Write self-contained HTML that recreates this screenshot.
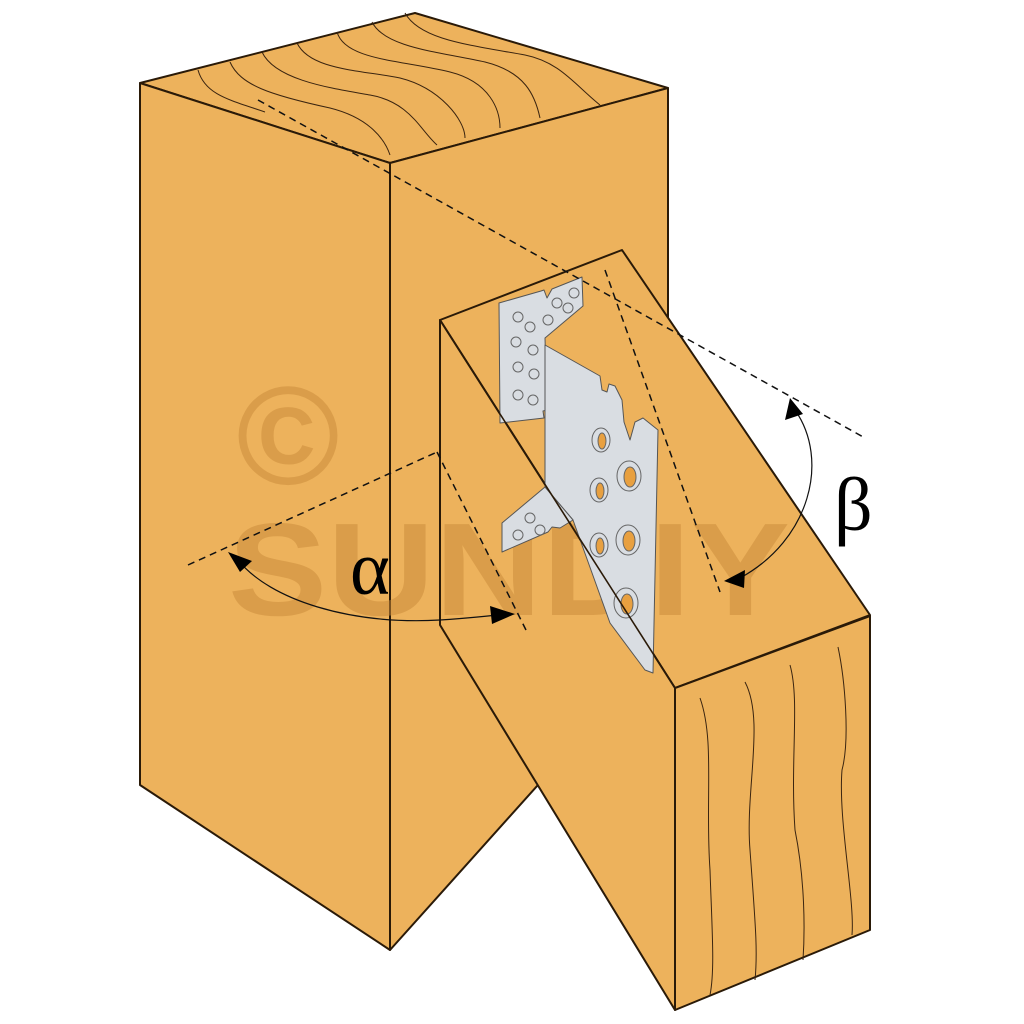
<!DOCTYPE html>
<html><head><style>html,body{margin:0;padding:0;background:#fff}svg{display:block}</style></head>
<body>
<svg width="1024" height="1024" viewBox="0 0 1024 1024" xmlns="http://www.w3.org/2000/svg">
<g stroke="#2a1a08" stroke-width="2" stroke-linejoin="round" fill="#EDB25C">
<polygon points="140,83 415,13 668,88 390,163"/>
<polygon points="140,83 390,163 390,950 140,785"/>
<polygon points="390,163 668,88 668,640 390,950"/>
<polygon points="440,320 622,250 870,615 675,688"/>
<polygon points="440,320 675,688 675,1010 440,625"/>
<polygon points="675,688 870,616 870,930 675,1010"/>
</g>
<g stroke="#3a2410" stroke-width="1" fill="none">
<path d="M198,70 C205,95 230,100 265,112"/>
<path d="M230,62 C240,85 270,95 330,108 C370,118 385,140 390,155"/>
<path d="M262,52 C275,80 330,88 370,95 C410,102 420,130 437,145"/>
<path d="M297,43 C310,70 360,70 400,78 C440,88 465,120 465,138"/>
<path d="M337,32 C345,60 400,60 450,72 C490,82 500,110 500,128"/>
<path d="M372,22 C385,48 440,52 485,62 C525,72 535,95 540,118"/>
<path d="M405,13 C420,40 470,45 525,55 C560,62 575,85 600,105"/>
<path d="M700,698 C715,740 705,800 710,870 C712,930 715,970 710,995"/>
<path d="M745,682 C765,720 745,790 750,850 C755,920 758,950 755,980"/>
<path d="M790,665 C800,700 790,760 795,830 C805,880 805,930 803,960"/>
<path d="M838,647 C845,680 850,740 842,770 C838,820 855,900 852,935"/>
</g>
<g fill="#C98A3A" opacity="0.5" font-family="Liberation Sans, sans-serif" font-weight="bold">
<text x="228" y="615" font-size="132" textLength="562" lengthAdjust="spacingAndGlyphs">SUNDIY</text>
<text x="288" y="484" font-size="140" text-anchor="middle">©</text>
</g>
<g stroke="#555" stroke-width="1" fill="#D9DDE2" stroke-linejoin="round">
<polygon points="499,303 541,291 544,290 547,298 552,289 582,277 583,306 545,338 547,410 543,411 544,418 500,423"/>
<polygon points="545,345 600,376 602,390 607,392 609,384 615,386 622,400 624,422 630,440 635,422 643,418 658,430 653,673 645,670 610,623 573,520 545,487"/>
<polygon points="545,487 573,520 560,528 552,527 548,532 502,552 502,523"/>
</g>
<g fill="none" stroke="#666" stroke-width="1">
<circle cx="518" cy="317" r="5"/><circle cx="530" cy="327" r="5"/><circle cx="548" cy="320" r="5"/>
<circle cx="557" cy="303" r="5"/><circle cx="568" cy="308" r="5"/><circle cx="574" cy="293" r="5"/>
<circle cx="516" cy="342" r="5"/><circle cx="533" cy="350" r="5"/>
<circle cx="518" cy="367" r="5"/><circle cx="534" cy="374" r="5"/>
<circle cx="518" cy="395" r="5"/><circle cx="533" cy="400" r="5"/>
<circle cx="530" cy="518" r="5"/><circle cx="518" cy="535" r="5"/><circle cx="540" cy="530" r="5"/>
<ellipse cx="601" cy="440" rx="9" ry="12"/><ellipse cx="629" cy="476" rx="12" ry="15"/>
<ellipse cx="599" cy="490" rx="9" ry="12"/><ellipse cx="628" cy="540" rx="12" ry="15"/>
<ellipse cx="599" cy="545" rx="9" ry="12"/><ellipse cx="626" cy="603" rx="12" ry="15"/>
</g>
<g fill="#E8A040" stroke="#666" stroke-width="1">
<ellipse cx="602" cy="441" rx="4" ry="8"/><ellipse cx="630" cy="477" rx="6" ry="10"/>
<ellipse cx="600" cy="491" rx="4" ry="8"/><ellipse cx="629" cy="541" rx="6" ry="10"/>
<ellipse cx="600" cy="546" rx="4" ry="8"/><ellipse cx="627" cy="604" rx="6" ry="10"/>
</g>
<line x1="440" y1="320" x2="675" y2="688" stroke="#2a1a08" stroke-width="1.6"/>
<g stroke="#111" stroke-width="1.5" stroke-dasharray="7,5" fill="none">
<line x1="258" y1="100" x2="865" y2="438"/>
<line x1="605" y1="270" x2="720" y2="592"/>
<line x1="188" y1="565" x2="437" y2="452"/>
<line x1="437" y1="452" x2="527" y2="632"/>
</g>
<g stroke="#111" stroke-width="1.2" fill="none">
<path d="M238,560 C270,600 350,625 440,620 C470,618 490,616 505,614"/>
<path d="M795,410 C830,460 810,540 740,578"/>
</g>
<g fill="#000">
<polygon points="228,552 252,561 240,572"/>
<polygon points="515,614 490,606 492,624"/>
<polygon points="790,398 785,420 803,414"/>
<polygon points="724,581 745,570 744,588"/>
</g>
<g font-family="Liberation Serif, serif" fill="#000">
<text x="350" y="594" font-size="76">α</text>
<text x="834" y="530" font-size="76">β</text>
</g>
</svg>
</body></html>
